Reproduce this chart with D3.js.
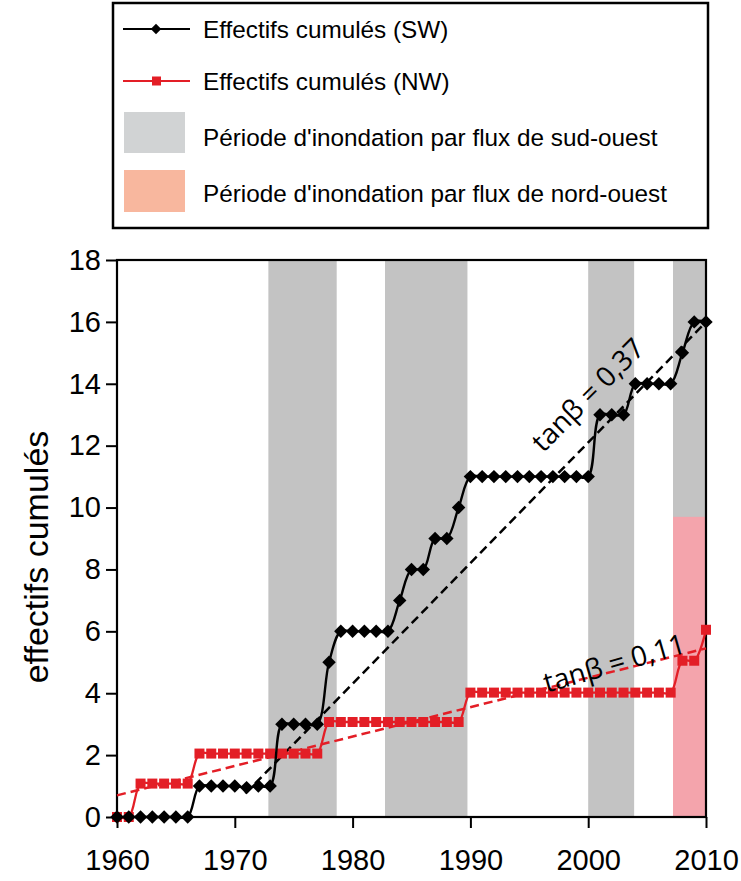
<!DOCTYPE html>
<html>
<head>
<meta charset="utf-8">
<script src="https://cdn.jsdelivr.net/npm/d3@7"></script>
<style>
  html, body { margin: 0; padding: 0; background: #fff; }
  svg { display: block; }
</style>
</head>
<body>
<svg id="chart" width="741" height="881"></svg>
<script>
// ---- data ----
const yearsSW = [1960,1961,1962,1963,1964,1965,1966,1967,1968,1969,1970,1971,1972,1973,1974,1975,1976,1977,1978,1979,1980,1981,1982,1983,1984,1985,1986,1987,1988,1989,1990,1991,1992,1993,1994,1995,1996,1997,1998,1999,2000,2001,2002,2003,2004,2005,2006,2007,2008,2009,2010];
const valuesSW = [0,0,0,0,0,0,0,1,1,1,1,0.95,1,1,3,3,3,3,5,6,6,6,6,6,7,8,8,9,9,10,11,11,11,11,11,11,11,11,11,11,11,13,13,13,14,14,14,14,15,16,16];
const yearsNW = yearsSW;
const valuesNW = [0,0,1.08,1.08,1.08,1.08,1.08,2.05,2.05,2.05,2.05,2.05,2.05,2.05,2.05,2.05,2.05,2.05,3.07,3.07,3.07,3.07,3.07,3.07,3.07,3.07,3.07,3.07,3.07,3.07,4.02,4.02,4.02,4.02,4.02,4.02,4.02,4.02,4.02,4.02,4.02,4.02,4.02,4.02,4.02,4.02,4.02,4.02,5.05,5.05,6.05];
// trend lines [start, end]
const trendSWYears = [1970.9, 2010];
const trendSWValues = [0.76, 16.0];
const trendNWYears = [1960, 2010];
const trendNWValues = [0.7, 5.45];
// flood periods
const swPeriods = [[1972.85, 1978.65], [1982.75, 1989.75], [2000.0, 2003.9], [2007.2, 2010]];
const nwPeriods = [[2007.2, 2010]];
const nwPeriodTop = 9.7;
const xTicks = [1960, 1970, 1980, 1990, 2000, 2010];
const yTicks = [0, 2, 4, 6, 8, 10, 12, 14, 16, 18];
const legendLabels = ["Effectifs cumulés (SW)", "Effectifs cumulés (NW)", "Période d'inondation par flux de sud-ouest", "Période d'inondation par flux de nord-ouest"];
const yLabel = "effectifs cumulés";
const slopeLabelSW = "tanβ = 0,37";
const slopeLabelNW = "tanβ = 0,11";

// ---- layout ----
const svg = d3.select("#chart");
const RED = "#e31e26";
const GRAY = "#c3c3c3";
const PINK = "#f4a4ac";
const x = d3.scaleLinear().domain([1960, 2010]).range([117, 706]);
const y = d3.scaleLinear().domain([0, 18]).range([817, 260]);

// bands
svg.append("g").selectAll("rect").data(swPeriods).join("rect")
  .attr("x", d => x(d[0])).attr("width", d => x(d[1]) - x(d[0]))
  .attr("y", y(18)).attr("height", y(0) - y(18)).attr("fill", GRAY);
svg.append("g").selectAll("rect").data(nwPeriods).join("rect")
  .attr("x", d => x(d[0])).attr("width", d => x(d[1]) - x(d[0]))
  .attr("y", y(nwPeriodTop)).attr("height", y(0) - y(nwPeriodTop)).attr("fill", PINK);

// axes
const fontMain = "'Liberation Sans', Arial, sans-serif";
const yAxis = svg.append("g").attr("transform", `translate(${x(1960)},0)`)
  .call(d3.axisLeft(y).tickValues(yTicks).tickSize(11).tickPadding(5).tickFormat(d3.format("d")));
const xAxis = svg.append("g").attr("transform", `translate(0,${y(0)})`)
  .call(d3.axisBottom(x).tickValues(xTicks).tickSize(11).tickPadding(21).tickFormat(d3.format("d")));
[yAxis, xAxis].forEach(a => {
  a.select(".domain").remove();
  a.selectAll(".tick line").attr("stroke", "#000").attr("stroke-width", 2);
  a.selectAll(".tick text").attr("font-family", fontMain).attr("font-size", 29).attr("fill", "#000");
});
// frame
svg.append("rect").attr("x", x(1960)).attr("y", y(18))
  .attr("width", x(2010) - x(1960)).attr("height", y(0) - y(18))
  .attr("fill", "none").attr("stroke", "#000").attr("stroke-width", 2.2);

// y label
svg.append("text").attr("transform", `translate(48,557) rotate(-90)`)
  .attr("text-anchor", "middle").attr("font-family", fontMain).attr("font-size", 34)
  .text(yLabel);

// trend lines
const lineGen = d3.line().x(d => x(d[0])).y(d => y(d[1]));
svg.append("path").attr("d", lineGen(d3.zip(trendSWYears, trendSWValues)))
  .attr("stroke", "#000").attr("stroke-width", 2.5).attr("stroke-dasharray", "9,5").attr("fill", "none");
svg.append("path").attr("d", lineGen(d3.zip(trendNWYears, trendNWValues)))
  .attr("stroke", RED).attr("stroke-width", 2.5).attr("stroke-dasharray", "9,5").attr("fill", "none");

// series
const smooth = d3.line().x(d => x(d[0])).y(d => y(d[1])).curve(d3.curveCatmullRom.alpha(0.5));
const nw = d3.zip(yearsNW, valuesNW);
const sw = d3.zip(yearsSW, valuesSW);
svg.append("path").attr("d", smooth(nw)).attr("stroke", RED).attr("stroke-width", 2.3).attr("fill", "none");
svg.append("g").selectAll("rect").data(nw).join("rect")
  .attr("x", d => x(d[0]) - 5).attr("y", d => y(d[1]) - 5)
  .attr("width", 10).attr("height", 10).attr("fill", RED);
svg.append("path").attr("d", smooth(sw)).attr("stroke", "#000").attr("stroke-width", 2.4).attr("fill", "none");
const diamond = d3.symbol().type(d3.symbolDiamond2).size(115);
svg.append("g").selectAll("path").data(sw).join("path")
  .attr("transform", d => `translate(${x(d[0])},${y(d[1])})`)
  .attr("d", diamond).attr("fill", "#000");

// slope labels
const fontAnn = "'Open Sans', 'Noto Sans', sans-serif";
svg.append("text").attr("transform", "translate(587,394) rotate(-45)")
  .attr("text-anchor", "middle").attr("dominant-baseline", "central")
  .attr("font-family", fontAnn).attr("font-size", 28).text(slopeLabelSW);
svg.append("text").attr("transform", "translate(614,662) rotate(-16)")
  .attr("text-anchor", "middle").attr("dominant-baseline", "central")
  .attr("font-family", fontAnn).attr("font-size", 28).text(slopeLabelNW);

// legend
const lg = svg.append("g");
lg.append("rect").attr("x", 113).attr("y", 3).attr("width", 595).attr("height", 225)
  .attr("fill", "#fff").attr("stroke", "#000").attr("stroke-width", 2.5);
const rowsY = [29, 81, 137, 193];
lg.append("line").attr("x1", 123).attr("x2", 190).attr("y1", rowsY[0]).attr("y2", rowsY[0]).attr("stroke", "#000").attr("stroke-width", 2);
lg.append("path").attr("transform", `translate(156,${rowsY[0]})`).attr("d", d3.symbol().type(d3.symbolDiamond2).size(70)).attr("fill", "#000");
lg.append("line").attr("x1", 123).attr("x2", 190).attr("y1", rowsY[1]).attr("y2", rowsY[1]).attr("stroke", RED).attr("stroke-width", 2);
lg.append("rect").attr("x", 152).attr("y", rowsY[1] - 4.5).attr("width", 9).attr("height", 9).attr("fill", RED);
lg.append("rect").attr("x", 124).attr("y", 112).attr("width", 61).attr("height", 41).attr("fill", "#d1d3d4");
lg.append("rect").attr("x", 124).attr("y", 170).attr("width", 61).attr("height", 42).attr("fill", "#f8b79e");
lg.selectAll("text").data(legendLabels).join("text")
  .attr("x", 203).attr("y", (d, i) => rowsY[i]).attr("dominant-baseline", "central")
  .attr("font-family", fontMain).attr("font-size", 24.3).text(d => d);
</script>
</body>
</html>
